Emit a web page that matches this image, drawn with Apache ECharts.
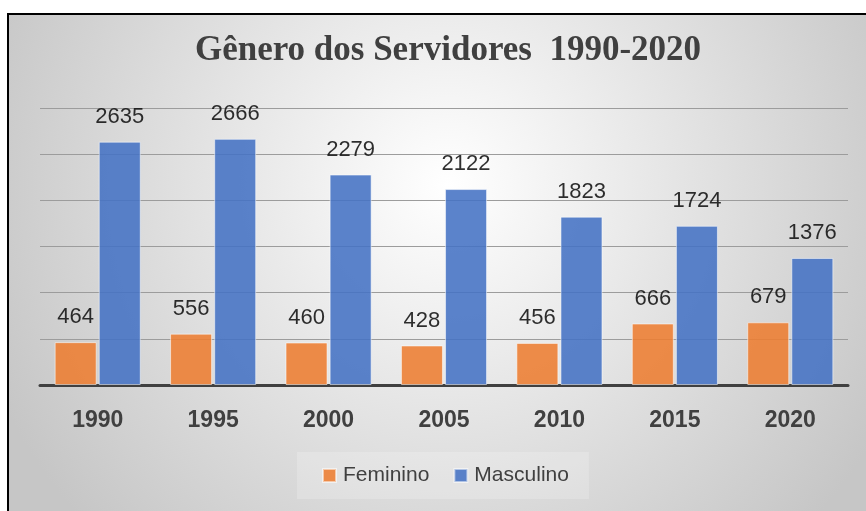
<!DOCTYPE html>
<html>
<head>
<meta charset="utf-8">
<script src="https://cdn.jsdelivr.net/npm/echarts@6/dist/echarts.min.js"></script>
<style>html,body{margin:0;padding:0;background:#fff}#c{width:866px;height:511px}</style>
</head>
<body>
<div id="c"></div>
<script>
var categories = ['1990', '1995', '2000', '2005', '2010', '2015', '2020'];
var feminino = [464, 556, 460, 428, 456, 666, 679];
var masculino = [2635, 2666, 2279, 2122, 1823, 1724, 1376];
var titleText = 'Gênero dos Servidores  1990-2020';
var seriesNames = ['Feminino', 'Masculino'];

var chart = echarts.init(document.getElementById('c'));
var labelStyle = {
  show: true, position: 'top', distance: 14,
  fontFamily: 'Liberation Sans', fontSize: 22, color: '#111'
};
chart.setOption({
  backgroundColor: '#ffffff',
  animation: false,
  graphic: [{
    type: 'rect', z: -10, silent: true,
    shape: { x: 8, y: 14, width: 880, height: 520 },
    style: {
      fill: new echarts.graphic.RadialGradient(0.5, 0.33, 0.95, [
        { offset: 0, color: '#ffffff' },
        { offset: 1, color: '#c6c6c6' }
      ]),
      stroke: '#000', lineWidth: 2
    }
  }],
  title: {
    text: titleText,
    left: 443, top: 28, textAlign: 'center',
    textStyle: { fontFamily: 'Liberation Serif', fontWeight: 'bold', fontSize: 35, color: '#404040' }
  },
  legend: {
    data: seriesNames,
    left: 297, top: 452,
    padding: [13, 20, 13, 25],
    backgroundColor: 'rgba(255,255,255,0.2)',
    itemWidth: 13, itemHeight: 13, itemGap: 24,
    icon: 'rect',
    textStyle: { fontFamily: 'Liberation Sans', fontSize: 21, color: '#404040', padding: [0, 0, 0, 2] }
  },
  grid: { left: 40, right: 18, top: 108, bottom: 126, containLabel: false },
  xAxis: {
    type: 'category', data: categories,
    axisLine: { lineStyle: { color: '#404040', width: 3 } },
    axisTick: { show: false },
    axisLabel: { margin: 24, fontFamily: 'Liberation Sans', fontWeight: 'bold', fontSize: 23, color: '#404040' }
  },
  yAxis: {
    type: 'value', min: 0, max: 3000, interval: 500,
    axisLine: { show: false }, axisTick: { show: false }, axisLabel: { show: false },
    splitLine: { lineStyle: { color: '#9c9c9c', width: 1 } }
  },
  series: [{
    name: seriesNames[0], type: 'bar', data: feminino,
    barWidth: 42, barGap: '5%',
    itemStyle: { color: '#ED7D31', opacity: 0.88, borderColor: 'rgba(255,255,255,0.6)', borderWidth: 1 },
    label: labelStyle
  }, {
    name: seriesNames[1], type: 'bar', data: masculino,
    barWidth: 42,
    itemStyle: { color: '#4472C4', opacity: 0.88, borderColor: 'rgba(255,255,255,0.6)', borderWidth: 1 },
    label: labelStyle
  }]
});
</script>
</body>
</html>
